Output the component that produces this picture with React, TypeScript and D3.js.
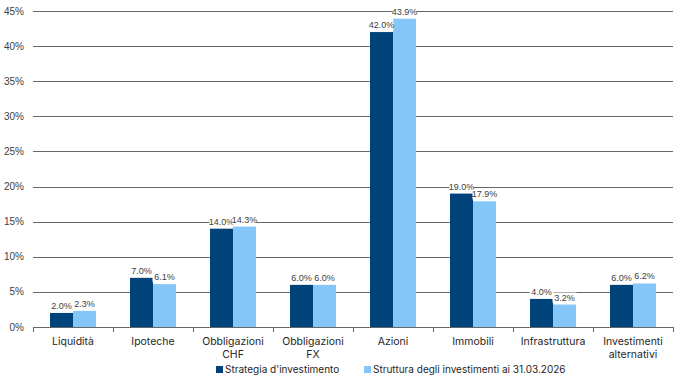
import React from "react";
import * as d3 from "d3";

const categories: string[][] = [
  ["Liquidità"],
  ["Ipoteche"],
  ["Obbligazioni", "CHF"],
  ["Obbligazioni", "FX"],
  ["Azioni"],
  ["Immobili"],
  ["Infrastruttura"],
  ["Investimenti", "alternativi"],
];
const strategia = [2.0, 7.0, 14.0, 6.0, 42.0, 19.0, 4.0, 6.0];
const struttura = [2.3, 6.1, 14.3, 6.0, 43.9, 17.9, 3.2, 6.2];
const seriesNames = ["Strategia d'investimento", "Struttura degli investimenti ai 31.03.2026"];
const colors = ["#00427A", "#84C6F8"];
const yTicks = [0, 5, 10, 15, 20, 25, 30, 35, 40, 45];

const W = 676, H = 380;
const left = 33, right = 673, top = 11, bottom = 327;

export default function App() {
  const keys = categories.map((_, i) => String(i));
  const x = d3.scaleBand<string>().domain(keys).range([left, right]).paddingInner(0).paddingOuter(0);
  const y = d3.scaleLinear().domain([0, 45]).range([bottom, top]);
  const bw = 23;
  const series = [strategia, struttura];
  const labelFont = "'Liberation Sans', Arial, sans-serif";
  const catFont = "Inter, 'Noto Sans', sans-serif";
  const grid = "#666666";

  return (
    <svg width={W} height={H} style={{ position: "absolute", left: 0, top: 0, background: "#fff" }}>
      {yTicks.map((t) => (
        <g key={t}>
          {t > 0 && <line x1={left} x2={right} y1={Math.round(y(t)) + 0.5} y2={Math.round(y(t)) + 0.5} stroke={grid} strokeWidth={1} />}
          <text x={24} y={y(t) + 3.5} textAnchor="end" fontFamily={labelFont} fontSize={10} fill="#404040">{t}%</text>
        </g>
      ))}
      {keys.map((k, i) => {
        const cx = (x(k) as number) + x.bandwidth() / 2;
        return series.map((s, j) => (
          <rect key={k + "-" + j} x={cx - bw + j * bw} y={y(s[i])} width={bw} height={bottom - y(s[i])} fill={colors[j]} />
        ));
      })}
      <line x1={left} x2={right} y1={bottom + 0.5} y2={bottom + 0.5} stroke={grid} strokeWidth={1} />
      {d3.range(categories.length + 1).map((i) => {
        const xx = Math.round(left + i * x.bandwidth()) + 0.5;
        return <line key={i} x1={xx} x2={xx} y1={bottom} y2={bottom + 5} stroke={grid} strokeWidth={1} />;
      })}
      {keys.map((k, i) => {
        const cx = (x(k) as number) + x.bandwidth() / 2;
        return series.map((s, j) => {
          const bx = cx - bw / 2 + j * bw;
          const txt = s[i].toFixed(1) + "%";
          const ty = y(s[i]) - 4;
          const tw = 21;
          return (
            <g key={"l" + k + j}>
              <rect x={bx - tw / 2 - 1.5} y={ty - 8} width={tw + 3} height={10} fill="#fff" />
              <text x={bx} y={ty} textAnchor="middle" fontFamily={labelFont} fontSize={9} fill="#404040">{txt}</text>
            </g>
          );
        });
      })}
      {keys.map((k, i) => {
        const cx = (x(k) as number) + x.bandwidth() / 2;
        return (
          <text key={"c" + k} x={cx} textAnchor="middle" fontFamily={catFont} fontSize={10.5} fill="#262626">
            {categories[i].map((line, li) => (
              <tspan key={li} x={cx} y={345 + li * 13}>{line}</tspan>
            ))}
          </text>
        );
      })}
      <g>
        <rect x={216} y={366} width={7} height={7} fill={colors[0]} />
        <text x={225} y={373} fontFamily={catFont} fontSize={10} fill="#262626">{seriesNames[0]}</text>
        <rect x={364} y={366} width={7} height={7} fill={colors[1]} />
        <text x={373} y={373} fontFamily={catFont} fontSize={10} fill="#262626">{seriesNames[1]}</text>
      </g>
    </svg>
  );
}
